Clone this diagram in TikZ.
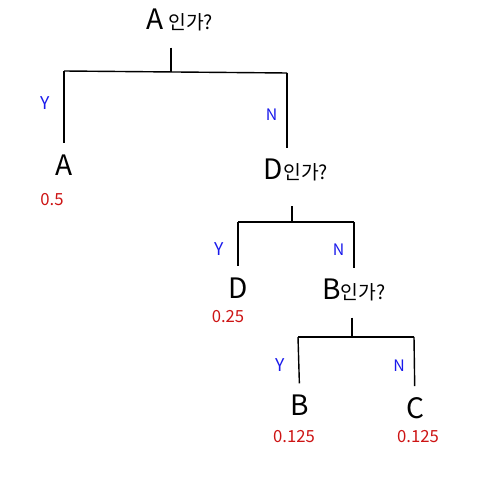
\documentclass[tikz,border=0pt]{standalone}
\usepackage{fontspec}
\setmainfont{Noto Sans CJK KR}
\usepackage{tikz}
\usetikzlibrary{positioning}
\definecolor{ynblue}{RGB}{25,25,235}
\definecolor{pred}{RGB}{205,20,20}
\newcommand{\ltr}[1]{{\fontsize{16}{18}\selectfont #1}}

\begin{document}
\begin{tikzpicture}[x=0.02cm,y=-0.02cm,line width=0.8pt,every node/.style={inner sep=1pt},
  quest/.style={font=\fontsize{11}{13}\selectfont},
  leaf/.style={font=\fontsize{16}{18}\selectfont},
  prob/.style={text=pred,font=\fontsize{9.5}{11}\selectfont},
  yes/.style={text=ynblue,font=\fontsize{10}{12}\selectfont,left=0.26cm,inner sep=0pt},
  no/.style={text=ynblue,font=\fontsize{9}{11}\selectfont,left=0.18cm,inner sep=0pt},
  down/.style={shorten >=5pt}]
  \useasboundingbox (0,0) rectangle (500,479);
  % questions and leaves
  \node[quest] (qa) at (180,20) {\ltr{A} 인가?};
  \node[leaf] (a) at (64,165) {A};
  \node[quest] (qd) at (296,170) {\ltr{D}인가?};
  \node[leaf] (d) at (238,288) {D};
  \node[quest] (qb) at (354,290) {\ltr{B}인가?};
  \node[leaf] (b) at (300,405) {B};
  \node[leaf] (c) at (415,408) {C};
  \node[prob] (pa) at (52,200) {0.5};
  \node[prob] (pd) at (228,317) {0.25};
  \node[prob] (pb) at (294,437) {0.125};
  \node[prob] (pc) at (418,437) {0.125};
  % branch corners
  \coordinate (ma) at (171,72); \coordinate (la) at (64,71); \coordinate (ra) at (287,73);
  \coordinate (md) at (292,222); \coordinate (ld) at (238,222); \coordinate (rd) at (354,222);
  \coordinate (mb) at (352,337); \coordinate (lb) at (298,337); \coordinate (rb) at (414,337);
  \draw[shorten <=8pt] (qa.south -| ma) -- (ma);
  \draw (la) -- (ra);
  \draw[down] (la) -- node[yes,pos=0.4] {Y} (a);
  \draw[down] (ra) -- node[no] {N} (ra |- qd.north);
  \draw[shorten <=13pt] (qd.south -| md) -- (md);
  \draw (ld) -- (rd);
  \draw[down] (ld) -- node[yes] {Y} (d);
  \draw[down] (rd) -- node[no] {N} (qb);
  \draw[shorten <=8pt] (qb.south -| mb) -- (mb);
  \draw (lb) -- (rb);
  \draw[down] (lb) -- node[yes] {Y} (b);
  \draw[down] (rb) -- node[no] {N} (c);
\end{tikzpicture}
\end{document}
